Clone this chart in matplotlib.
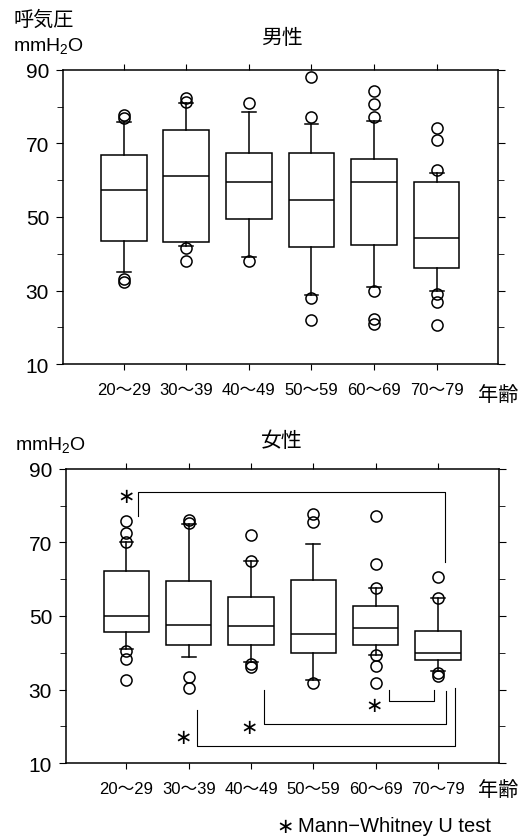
import matplotlib
matplotlib.use('Agg')
import matplotlib.pyplot as plt
from matplotlib.ticker import MultipleLocator

plt.rcParams['font.family'] = ['Liberation Sans', 'Noto Sans CJK JP', 'DejaVu Sans']
plt.rcParams['mathtext.fontset'] = 'custom'
plt.rcParams['mathtext.rm'] = 'Liberation Sans'
plt.rcParams['mathtext.it'] = 'Liberation Sans'

age_groups = ['20〜29', '30〜39', '40〜49', '50〜59', '60〜69', '70〜79']

# 男性 (men) - box stats
male_whislo = [35.1, 42.0, 39.0, 28.8, 30.9, 30.0]
male_q1 = [43.6, 43.3, 49.5, 41.9, 42.4, 36.0]
male_med = [57.4, 61.1, 59.6, 54.5, 59.5, 44.4]
male_q3 = [67.0, 73.7, 67.5, 67.5, 65.8, 59.5]
male_whishi = [75.9, 80.9, 78.7, 75.2, 76.0, 62.0]
male_fliers = [
    [77.0, 77.8, 33.1, 32.2],
    [82.4, 81.2, 41.5, 38.1],
    [81.1, 38.1],
    [77.2, 88.0, 27.9, 22.0],
    [77.2, 80.7, 84.2, 30.0, 22.3, 21.0],
    [74.1, 71.0, 62.8, 29.1, 27.0, 20.7],
]

# 女性 (women)
female_whislo = [41.0, 38.8, 37.4, 32.5, 39.5, 35.0]
female_q1 = [45.7, 42.1, 42.1, 40.0, 42.1, 38.0]
female_med = [50.0, 47.5, 47.3, 45.1, 46.8, 40.0]
female_q3 = [62.2, 59.4, 55.2, 59.8, 52.6, 45.9]
female_whishi = [70.0, 75.0, 65.0, 69.7, 57.5, 54.8]
female_fliers = [
    [75.9, 72.7, 70.0, 40.6, 38.2, 32.5],
    [76.1, 75.3, 33.5, 30.3],
    [65.0, 72.1, 37.0, 36.2],
    [77.7, 75.6, 31.8],
    [57.5, 64.1, 77.1, 39.3, 36.5, 31.8],
    [54.8, 60.7, 34.6, 33.6],
]

# significance brackets (women): x left, x right, y left end, y right end, y bar
brackets = [
    (1.19, 6.11, 77.3, 64.6, 83.8),
    (2.14, 6.27, 24.3, 30.5, 14.5),
    (3.21, 6.13, 30.0, 29.5, 20.5),
    (5.22, 5.94, 29.8, 30.0, 26.8),
]
star_x = [1.0, 1.91, 2.97, 4.97]
star_y = [82.7, 17.1, 19.8, 25.9]


def make_stats(lo, q1, med, q3, hi, fl):
    stats = []
    for i in range(len(med)):
        stats.append({'whislo': lo[i], 'q1': q1[i], 'med': med[i], 'q3': q3[i],
                      'whishi': hi[i], 'fliers': fl[i]})
    return stats


def draw_panel(ax, stats):
    pos = list(range(1, len(age_groups) + 1))
    ax.bxp(stats, positions=pos, widths=0.73, capwidths=0.22, patch_artist=True,
           showfliers=True,
           boxprops=dict(facecolor='white', edgecolor='black', linewidth=1.1),
           medianprops=dict(color='black', linewidth=1.1),
           whiskerprops=dict(color='black', linewidth=1.1),
           capprops=dict(color='black', linewidth=1.1),
           flierprops=dict(marker='o', markerfacecolor='none', markeredgecolor='black',
                           markersize=8, markeredgewidth=1.1))
    ax.set_xlim(0.03, 6.98)
    ax.set_ylim(10, 90)
    ax.set_yticks([10, 30, 50, 70, 90])
    ax.yaxis.set_minor_locator(MultipleLocator(10))
    ax.set_xticks(pos)
    ax.set_xticklabels(age_groups, fontsize=12)
    ax.tick_params(axis='y', labelsize=15, direction='out', length=5, pad=5)
    ax.tick_params(axis='y', which='minor', length=4)
    ax.tick_params(axis='y', which='both', right=True)
    ax.tick_params(axis='x', direction='out', length=4, pad=9, top=True)
    for sp in ax.spines.values():
        sp.set_linewidth(1.1)


fig = plt.figure(figsize=(5.31, 8.37), dpi=100)

ax1 = fig.add_axes([0.1186, 0.5639, 0.8192, 0.3513])
draw_panel(ax1, make_stats(male_whislo, male_q1, male_med, male_q3, male_whishi, male_fliers))

ax2 = fig.add_axes([0.1243, 0.0872, 0.8154, 0.3513])
draw_panel(ax2, make_stats(female_whislo, female_q1, female_med, female_q3, female_whishi, female_fliers))

for x1, x2, y1, y2, yb in brackets:
    ax2.plot([x1, x1, x2, x2], [y1, yb, yb, y2], color='black', linewidth=0.8)
for sx, sy in zip(star_x, star_y):
    ax2.text(sx, sy, '∗', family='DejaVu Sans', fontsize=15, ha='center', va='center')

# labels
fig.text(0.0245, 0.976, '呼気圧', fontsize=14.5, ha='left', va='center')
fig.text(0.0245, 0.9456, r'mmH$_2$O', fontsize=14, ha='left', va='center')
fig.text(0.531, 0.954, '男性', fontsize=15, ha='center', va='center')
fig.text(0.938, 0.528, '年齢', fontsize=14.5, ha='center', va='center')

fig.text(0.028, 0.468, r'mmH$_2$O', fontsize=14, ha='left', va='center')
fig.text(0.531, 0.4723, '女性', fontsize=15, ha='center', va='center')
fig.text(0.938, 0.056, '年齢', fontsize=14.5, ha='center', va='center')

fig.text(0.52, 0.0123, '∗', family='DejaVu Sans', fontsize=15, ha='left', va='center')
fig.text(0.5605, 0.0123, 'Mann−Whitney U test', fontsize=14.5, ha='left', va='center')

fig.savefig('out.png', dpi=100)
